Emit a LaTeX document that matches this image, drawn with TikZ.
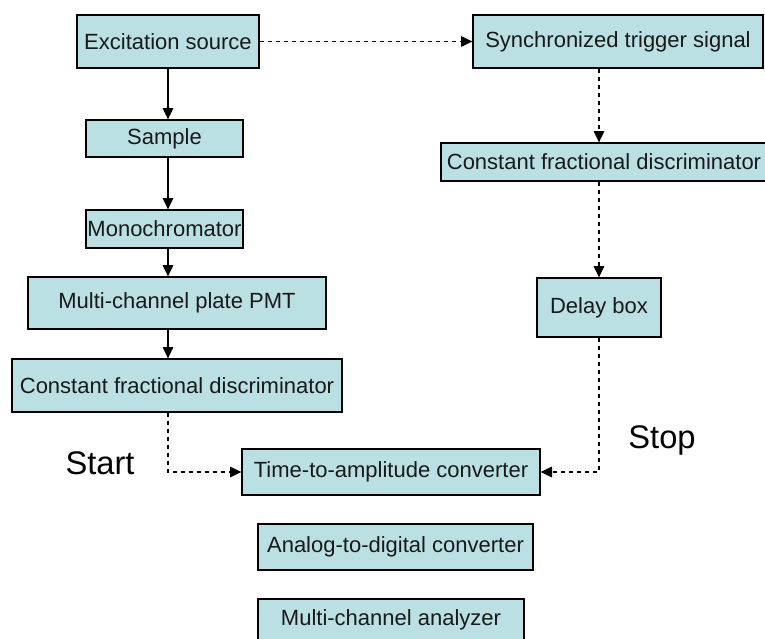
\documentclass[tikz,border=0pt]{standalone}
\usepackage{fontspec}
\setmainfont{Liberation Sans}
\usetikzlibrary{arrows.meta}
\definecolor{boxfill}{HTML}{BBE0E3}
\tikzset{
  box/.style={draw=black,fill=boxfill,line width=1pt,inner sep=0pt,
    font=\fontsize{16.5}{19}\selectfont,text=black!90},
  boxsize/.style 2 args={minimum width=#1*0.75pt,minimum height=#2*0.75pt},
  flow/.style={-{Triangle[length=8.5pt,width=8pt]},line width=0.8pt},
  sig/.style={flow,dash pattern={on 3.5pt off 2.5pt}},
  tag/.style={font=\fontsize{24.5}{28}\selectfont}
}
\begin{document}
\begin{tikzpicture}[x=0.75pt,y=-0.75pt]
\clip (0,0) rectangle (765,639);
% left column
\node[box,boxsize={182}{53}] (exc) at (168,41.5) {Excitation source};
\node[box,boxsize={157}{37}] (sample) at (164.5,138.5) {Sample};
\node[box,boxsize={157}{38}] (mono) at (164.5,229) {Monochromator};
\node[box,boxsize={298}{52}] (pmt) at (177,303) {Multi-channel plate PMT};
\node[box,boxsize={330}{53}] (cfdl) at (177,385.5) {Constant fractional discriminator};
% right column
\node[box,boxsize={290}{53}] (sync) at (618,41.5) {Synchronized trigger signal};
\node[box,boxsize={326}{38}] (cfdr) at (604,162) {Constant fractional discriminator};
\node[box,boxsize={124}{59}] (delay) at (599,307.5) {Delay box};
% bottom
\node[box,boxsize={298}{46}] (tac) at (391,472) {Time-to-amplitude converter};
\node[box,boxsize={275}{46}] (adc) at (395.5,547) {Analog-to-digital converter};
\node[box,boxsize={266}{42}] (mca) at (391,620) {Multi-channel analyzer};
\node[tag] (start) at (100,463) {Start};
\node[tag] (stop) at (662,440) {Stop};
% connectors
\draw[flow] (exc.south) -- (exc.south |- sample.north);
\draw[flow] (exc.south |- sample.south) -- (exc.south |- mono.north);
\draw[flow] (exc.south |- mono.south) -- (exc.south |- pmt.north);
\draw[flow] (exc.south |- pmt.south) -- (exc.south |- cfdl.north);
\draw[sig] (exc.east) -- (sync.west);
\draw[sig] (delay.north |- sync.south) -- (delay.north |- cfdr.north);
\draw[sig] (delay.north |- cfdr.south) -- (delay.north);
\draw[sig] (exc.south |- cfdl.south) |- (tac.west);
\draw[sig] (delay.south) |- (tac.east);
\end{tikzpicture}
\end{document}
